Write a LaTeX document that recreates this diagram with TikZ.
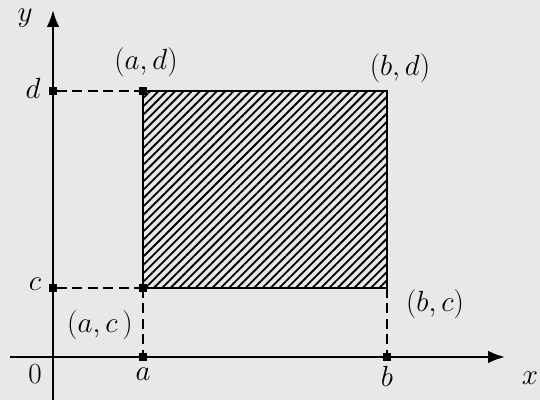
\documentclass[tikz,border=0pt]{standalone}
\usetikzlibrary{patterns.meta, arrows.meta}
\begin{document}
\begin{tikzpicture}[
			x=0.025cm, y=0.025cm,
			axis/.style={line width=1.8pt, -{Latex[length=12pt, width=9pt]}},
			edge/.style={line width=1.8pt},
			guide/.style={line width=1.1pt, dash pattern=on 7pt off 4pt},
			tick/.style={rectangle, fill=black, minimum size=5pt, inner sep=0pt},
			lbl/.style={font=\fontsize{21}{24}\selectfont}
		]
		\useasboundingbox (0,0) rectangle (540,400);
		\fill[black!9] (0,0) rectangle (540,400);

		% --- ASSI ---
		\coordinate (xl) at (10,43);
		\coordinate (xr) at (505,43);
		\coordinate (yb) at (53,0);
		\coordinate (yt) at (53,390);
		\draw [axis] (xl) -- (xr);
		\draw [axis] (yb) -- (yt);

		% --- PUNTI SUGLI ASSI ---
		\node (a) [tick] at (143,43) {};
		\node (b) [tick] at (387,43) {};
		\node (c) [tick] at (53,112) {};
		\node (d) [tick] at (53,309) {};

		% --- RETTANGOLO ---
		\coordinate (ac) at (143,112);
		\coordinate (bc) at (387,112);
		\coordinate (bd) at (387,309);
		\coordinate (ad) at (143,309);
		\fill [pattern={Lines[angle=45, distance=4.2pt, line width=1.3pt]}] (ac) rectangle (bd);
		\draw [edge] (ac) -- (bc) -- (bd) -- (ad) -- cycle;
		\node [tick] at (ac) {};
		\node [tick] at (ad) {};

		% --- TRATTEGGI ---
		\draw [guide] (d) -- (ad);
		\draw [guide] (c) -- (ac);
		\draw [guide] (ac) -- (a);
		\draw [guide] (bc) -- (b);

		% --- ETICHETTE ---
		\node (lbl_y) [lbl] at (25,382) {$y$};
		\node (lbl_x) [lbl] at (530,22) {$x$};
		\node (lbl_o) [lbl] at (35,26) {$0$};
		\node (lbl_a) [lbl] at (143,26) {$a$};
		\node (lbl_b) [lbl] at (387,24) {$b$};
		\node (lbl_c) [lbl] at (35,116) {$c$};
		\node (lbl_d) [lbl] at (33,312) {$d$};
		\node (lbl_ad) [lbl] at (146,338) {$(a,d)$};
		\node (lbl_bd) [lbl] at (400,332) {$(b,d)$};
		\node (lbl_ac) [lbl] at (100,75) {$(a,c\,)$};
		\node (lbl_bc) [lbl] at (435,96) {$(b,c)$};
	\end{tikzpicture}
\end{document}
